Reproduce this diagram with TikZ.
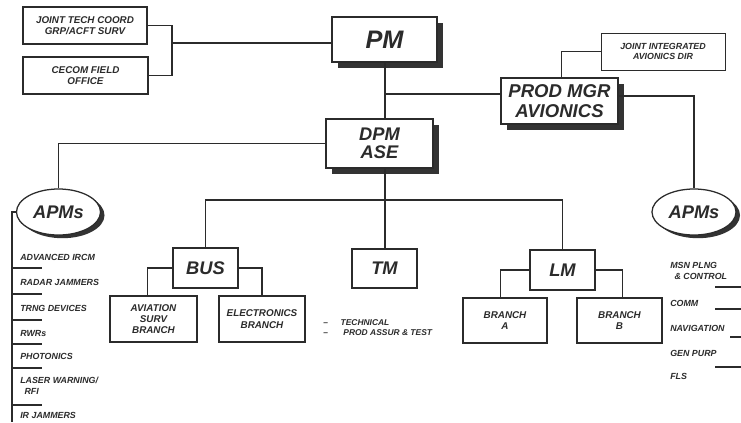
\documentclass[tikz,border=0pt]{standalone}
\usepackage{fontspec}
\setmainfont{Liberation Sans}
\usetikzlibrary{shapes.geometric,shadows,calc}
\definecolor{InkGray}{HTML}{2B2B2B}
\definecolor{ShadowGray}{HTML}{333333}
\tikzset{
  obox/.style={rectangle,draw=InkGray,line width=0.85pt,fill=white,
               align=center,inner sep=1pt,text=InkGray,
               font=\bfseries\itshape\fontsize{7}{8}\selectfont},
  hbox/.style={obox,line width=1pt,
               drop shadow={shadow xshift=0.15cm,shadow yshift=-0.15cm,
                            fill=ShadowGray,opacity=1}},
  apm/.style={ellipse,draw=InkGray,line width=0.9pt,fill=white,inner sep=0pt,
              minimum width=2.1cm,minimum height=1.15cm,text=InkGray,
              font=\bfseries\itshape\fontsize{13}{14}\selectfont,
              drop shadow={shadow xshift=0.1cm,shadow yshift=-0.08cm,
                           fill=ShadowGray,opacity=1}},
  item/.style={anchor=west,align=left,inner sep=0pt,text=InkGray,
               font=\bfseries\itshape\fontsize{6.3}{7.5}\selectfont},
  link/.style={draw=InkGray,line width=0.75pt},
}

\begin{document}
\begin{tikzpicture}[x=0.025cm,y=-0.025cm]
  \useasboundingbox (0,0) rectangle (741,422);

  % top level
  \node[obox,minimum width=3.1cm,minimum height=0.925cm] (jtc) at (85,25.5)
    {JOINT TECH COORD\\GRP/ACFT SURV};
  \node[obox,minimum width=3.125cm,minimum height=0.925cm] (cecom) at (85.5,75.5)
    {CECOM FIELD\\OFFICE};
  \node[hbox,minimum width=2.625cm,minimum height=1.125cm,
        font=\bfseries\itshape\fontsize{18}{20}\selectfont] (pm) at (384.5,39.5) {PM};
  \node[obox,line width=0.6pt,minimum width=3.1cm,minimum height=0.925cm,
        font=\bfseries\itshape\fontsize{6.3}{7.5}\selectfont] (jiad) at (663,51.5)
    {JOINT INTEGRATED\\AVIONICS DIR};
  \node[hbox,minimum width=2.925cm,minimum height=1.15cm,
        font=\bfseries\itshape\fontsize{13.2}{14}\selectfont] (pmgr) at (559.5,101)
    {PROD MGR\\AVIONICS};
  \node[hbox,minimum width=2.675cm,minimum height=1.225cm,
        font=\bfseries\itshape\fontsize{13}{13}\selectfont] (dpm) at (379.5,143.5)
    {DPM\\ASE};

  % APMs ovals
  \node[apm] (apml) at (58.5,212) {APMs};
  \node[apm] (apmr) at (694,212) {APMs};

  % second level
  \node[obox,minimum width=1.625cm,minimum height=1cm,
        font=\bfseries\itshape\fontsize{13}{14}\selectfont] (bus) at (205.5,268) {BUS};
  \node[obox,minimum width=1.625cm,minimum height=0.975cm,
        font=\bfseries\itshape\fontsize{13}{14}\selectfont] (tm) at (384.5,268.5) {TM};
  \node[obox,minimum width=1.625cm,minimum height=1cm,
        font=\bfseries\itshape\fontsize{13}{14}\selectfont] (lm) at (562.5,270) {LM};

  % branches
  \node[obox,minimum width=2.175cm,minimum height=1.15cm] (avn) at (153.5,319)
    {AVIATION\\SURV\\BRANCH};
  \node[obox,minimum width=2.15cm,minimum height=1.15cm] (elec) at (262,319)
    {ELECTRONICS\\BRANCH};
  \node[obox,minimum width=2.1cm,minimum height=1.125cm] (bra) at (505,320.5)
    {BRANCH\\A};
  \node[obox,minimum width=2.125cm,minimum height=1.125cm] (brb) at (619.5,320.5)
    {BRANCH\\B};
  \node[item,font=\bfseries\itshape\fontsize{6}{7.5}\selectfont] (tmnote) at (323,327.5)
    {--\hspace{9pt}TECHNICAL\\--\hspace{11pt}PROD ASSUR \& TEST};

  % connectors
  \coordinate (jb) at (172,43);
  \coordinate (bar) at (385,200);
  \draw[link] (jtc.east) -| (jb) |- (cecom.east);
  \draw[link] (jb) -- (jb -| pm.west);
  \draw[link] (pm.south -| bar) -- (dpm.north -| bar);
  \draw[link] ($(pmgr.west -| bar)+(0,-7)$) -- ($(pmgr.west)+(0,-7)$);
  \draw[link] (jiad.west) -| ([xshift=0.04cm]pmgr.north);
  \draw[link] ($(pmgr.east)+(0,-5)$) -| (apmr.north);
  \draw[link] (dpm.west) -| (apml.north);
  \draw[link] (dpm.south -| bar) -- (tm.north -| bar);
  \draw[link] (bus.north) |- (bar) -| (lm.north);
  \draw[link] (bus.west) -| ([xshift=-0.15cm]avn.north);
  \draw[link] (bus.east) -| (elec.north);
  \draw[link] (lm.west) -| ([xshift=-0.12cm]bra.north);
  \draw[link] (lm.east) -| ([xshift=0.08cm]brb.north);

  % left APMs list
  \foreach \txt/\ypos [count=\i] in {ADVANCED IRCM/257,RADAR JAMMERS/282,
      TRNG DEVICES/308,RWRs/333,PHOTONICS/356,
      {LASER WARNING/\\\hspace{3pt}RFI}/386,IR JAMMERS/415}
    \node[item] (li\i) at (20,\ypos) {\txt};
  \coordinate (lt) at (12,422);
  \draw[link] (apml.west) -- (apml.west -| lt) -- (lt);
  \foreach \ypos in {268,294,320,344,368,405}
    \draw[link] (12,\ypos) -- (42,\ypos);

  % right APMs list
  \foreach \txt/\ypos [count=\i] in {{MSN PLNG\\\hspace{3pt}\& CONTROL}/271,
      COMM/303,NAVIGATION/328,GEN PURP/353,FLS/376}
    \node[item] (ri\i) at (670,\ypos) {\txt};
  \foreach \xpos/\ypos in {715/287,715/309,730/337,715/367}
    \draw[link] (\xpos,\ypos) -- (741,\ypos);

\end{tikzpicture}
\end{document}
